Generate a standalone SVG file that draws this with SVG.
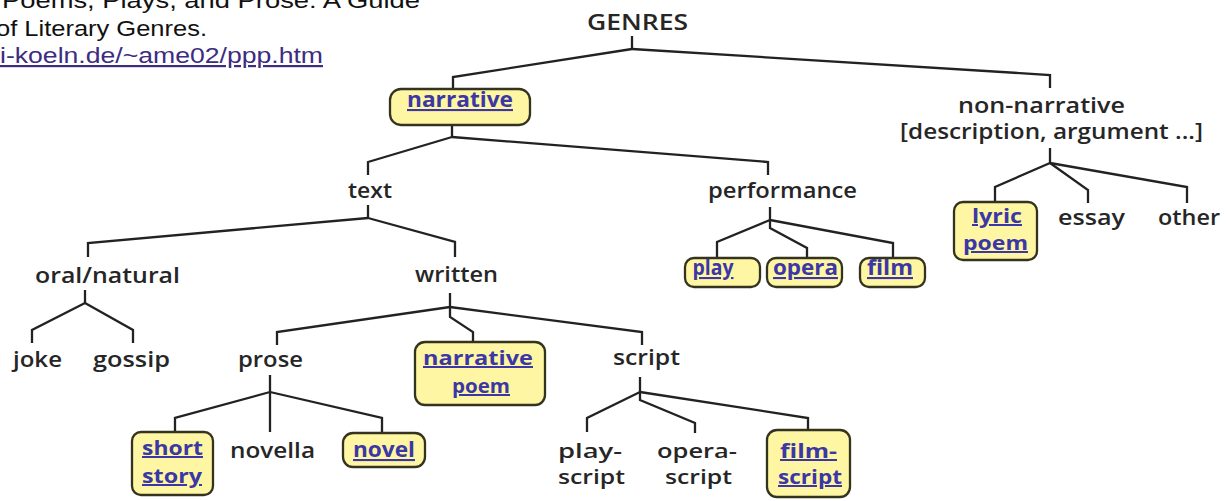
<svg xmlns="http://www.w3.org/2000/svg" width="1226" height="501" viewBox="0 0 1226 501">
<style>
.src{font-family:"Liberation Sans",Arial,sans-serif;font-size:22px;fill:#111}
.url{fill:#3d2c80;text-decoration:underline}
.lbl{font-family:"Open Sans","DejaVu Sans",sans-serif;font-size:21px;font-weight:600;fill:#262626;text-anchor:middle}
.two{font-size:20px}
.lnk{fill:#3b38a6;font-weight:700;text-decoration:underline}
.box{fill:#fff6a3;stroke:#34331f;stroke-width:2.3}
.con{fill:none;stroke:#222;stroke-width:2.3;stroke-linejoin:miter}
</style>
<rect width="1226" height="501" fill="#fff"/>
<g id="source">
<text class="src" x="2" y="8" textLength="418" lengthAdjust="spacingAndGlyphs">Poems, Plays, and Prose: A Guide</text>
<text class="src" x="-4" y="36" textLength="211" lengthAdjust="spacingAndGlyphs">of Literary Genres.</text>
<text class="src url" x="0" y="63" textLength="323" lengthAdjust="spacingAndGlyphs">i-koeln.de/~ame02/ppp.htm</text>
</g>
<g id="connectors">
<polyline class="con" points="632,36 632,49"/>
<polyline class="con" points="632,49 453,77 453,89"/>
<polyline class="con" points="632,49 1050,75 1050,88"/>
<polyline class="con" points="452,125 452,137"/>
<polyline class="con" points="452,137 368,162 368,175"/>
<polyline class="con" points="452,137 768,162 768,175"/>
<polyline class="con" points="368,205 368,218"/>
<polyline class="con" points="368,218 88,243 88,257"/>
<polyline class="con" points="368,218 455,242 455,257"/>
<polyline class="con" points="85,290 85,303"/>
<polyline class="con" points="85,303 32,330 32,343"/>
<polyline class="con" points="85,303 133,330 133,343"/>
<polyline class="con" points="450,293 450,307"/>
<polyline class="con" points="450,307 277,332 277,345"/>
<polyline class="con" points="450,307 450,317 473,332 473,342"/>
<polyline class="con" points="450,307 642,332 642,345"/>
<polyline class="con" points="270,375 270,392"/>
<polyline class="con" points="270,392 175,418 175,432"/>
<polyline class="con" points="270,392 270,432"/>
<polyline class="con" points="270,392 382,418 382,433"/>
<polyline class="con" points="640,377 640,392"/>
<polyline class="con" points="640,392 587,418 587,432"/>
<polyline class="con" points="640,392 640,400 695,423 695,433"/>
<polyline class="con" points="640,392 808,418 808,430"/>
<polyline class="con" points="770,207 770,220"/>
<polyline class="con" points="770,220 717,242 717,258"/>
<polyline class="con" points="770,220 770,228 807,248 807,258"/>
<polyline class="con" points="770,220 893,243 893,258"/>
<polyline class="con" points="1050,148 1050,163"/>
<polyline class="con" points="1050,163 995,187 995,202"/>
<polyline class="con" points="1050,163 1088,190 1088,203"/>
<polyline class="con" points="1050,163 1187,187 1187,203"/>
</g>
<g id="n-genres"><text class="lbl" x="637.5" y="30" font-size="22" textLength="101" lengthAdjust="spacingAndGlyphs">GENRES</text></g>
<g id="n-narrative"><rect class="box" x="390" y="89" width="140" height="36" rx="11"/><text class="lbl lnk" x="460" y="107" textLength="106" lengthAdjust="spacingAndGlyphs">narrative</text></g>
<g id="n-nonnarrative"><text class="lbl" x="1041.5" y="113" textLength="167" lengthAdjust="spacingAndGlyphs">non-narrative</text><text class="lbl" x="1051.5" y="139" textLength="303" lengthAdjust="spacingAndGlyphs">[description, argument ...]</text></g>
<g id="n-text"><text class="lbl" x="370" y="198" textLength="44" lengthAdjust="spacingAndGlyphs">text</text></g>
<g id="n-performance"><text class="lbl" x="782.5" y="198" textLength="149" lengthAdjust="spacingAndGlyphs">performance</text></g>
<g id="n-lyricpoem"><rect class="box" x="954" y="202" width="83" height="58" rx="9"/><text class="lbl lnk two" x="997" y="223" textLength="50" lengthAdjust="spacingAndGlyphs">lyric</text><text class="lbl lnk two" x="995.5" y="250" textLength="65" lengthAdjust="spacingAndGlyphs">poem</text></g>
<g id="n-essay"><text class="lbl" x="1091.5" y="225" textLength="67" lengthAdjust="spacingAndGlyphs">essay</text></g>
<g id="n-other"><text class="lbl" x="1189" y="225" textLength="62" lengthAdjust="spacingAndGlyphs">other</text></g>
<g id="n-oral"><text class="lbl" x="107.5" y="283" textLength="145" lengthAdjust="spacingAndGlyphs">oral/natural</text></g>
<g id="n-written"><text class="lbl" x="456.5" y="282" textLength="83" lengthAdjust="spacingAndGlyphs">written</text></g>
<g id="n-play"><rect class="box" x="685" y="258" width="75" height="29" rx="9"/><text class="lbl lnk" x="713" y="275" textLength="41" lengthAdjust="spacingAndGlyphs">play</text></g>
<g id="n-opera"><rect class="box" x="767" y="258" width="75" height="29" rx="9"/><text class="lbl lnk" x="805.5" y="275" textLength="65" lengthAdjust="spacingAndGlyphs">opera</text></g>
<g id="n-film"><rect class="box" x="860" y="258" width="65" height="29" rx="9"/><text class="lbl lnk" x="890" y="275" textLength="46" lengthAdjust="spacingAndGlyphs">film</text></g>
<g id="n-joke"><text class="lbl" x="37.5" y="367" textLength="49" lengthAdjust="spacingAndGlyphs">joke</text></g>
<g id="n-gossip"><text class="lbl" x="131.5" y="367" textLength="77" lengthAdjust="spacingAndGlyphs">gossip</text></g>
<g id="n-prose"><text class="lbl" x="270.5" y="367" textLength="65" lengthAdjust="spacingAndGlyphs">prose</text></g>
<g id="n-narrativepoem"><rect class="box" x="415" y="342" width="130" height="63" rx="10"/><text class="lbl lnk two" x="478" y="365" textLength="110" lengthAdjust="spacingAndGlyphs">narrative</text><text class="lbl lnk two" x="481" y="393" textLength="58" lengthAdjust="spacingAndGlyphs">poem</text></g>
<g id="n-script"><text class="lbl" x="646.5" y="365" textLength="67" lengthAdjust="spacingAndGlyphs">script</text></g>
<g id="n-shortstory"><rect class="box" x="132" y="432" width="81" height="63" rx="9"/><text class="lbl lnk two" x="172.5" y="455" textLength="61" lengthAdjust="spacingAndGlyphs">short</text><text class="lbl lnk two" x="172" y="483" textLength="60" lengthAdjust="spacingAndGlyphs">story</text></g>
<g id="n-novella"><text class="lbl" x="272.5" y="458" textLength="85" lengthAdjust="spacingAndGlyphs">novella</text></g>
<g id="n-novel"><rect class="box" x="343" y="433" width="82" height="34" rx="10"/><text class="lbl lnk" x="384" y="457" textLength="62" lengthAdjust="spacingAndGlyphs">novel</text></g>
<g id="n-playscript"><text class="lbl two" x="590" y="458" textLength="64" lengthAdjust="spacingAndGlyphs">play-</text><text class="lbl two" x="591.5" y="484" textLength="67" lengthAdjust="spacingAndGlyphs">script</text></g>
<g id="n-operascript"><text class="lbl two" x="697" y="458" textLength="80" lengthAdjust="spacingAndGlyphs">opera-</text><text class="lbl two" x="698.5" y="484" textLength="67" lengthAdjust="spacingAndGlyphs">script</text></g>
<g id="n-filmscript"><rect class="box" x="767" y="430" width="83" height="67" rx="10"/><text class="lbl lnk two" x="808.5" y="458" textLength="57" lengthAdjust="spacingAndGlyphs">film-</text><text class="lbl lnk two" x="810" y="484" textLength="64" lengthAdjust="spacingAndGlyphs">script</text></g>
</svg>
